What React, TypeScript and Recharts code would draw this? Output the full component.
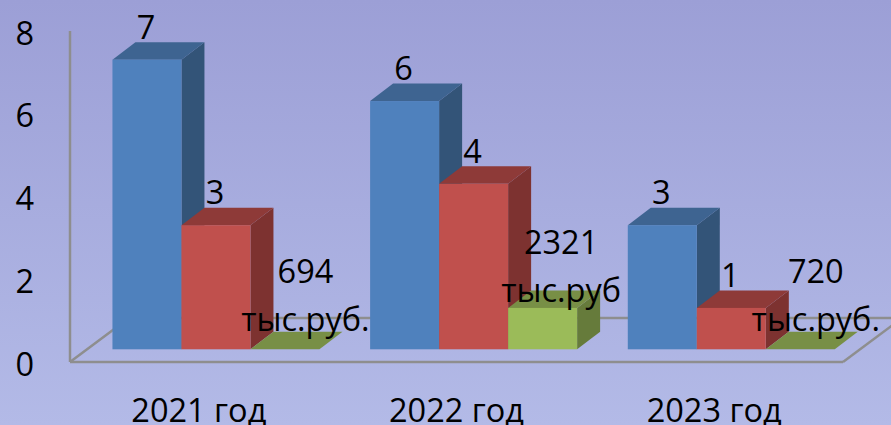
import React from 'react';
import { BarChart, Bar, XAxis, YAxis, LabelList, Customized } from 'recharts';

const categories = ['2021 год', '2022 год', '2023 год'];
const blueValues = [7, 6, 3];
const redValues = [3, 4, 1];
const greenValues = [0, 1, 0];
const greenAmounts = ['694', '2321', '720'];
const greenUnits = ['тыс.руб.', 'тыс.руб', 'тыс.руб.'];
const yTicks = [0, 2, 4, 6, 8];

const data = categories.map((name, i) => ({
  name,
  blue: blueValues[i],
  red: redValues[i],
  green: greenValues[i],
}));

const WIDTH = 891;
const HEIGHT = 425;
const FONT = '"Open Sans", sans-serif';
const FONT_SIZE = 32.5;
const AXIS = '#8e8e8e';

// the bars stand on the floor, a bit behind the front edge
const SHIFT_X = 17.2;
const SHIFT_Y = 12.7;
const DEPTH_X = 23;
const DEPTH_Y = 17.5;

const Box = (props: any) => {
  const { x, y, width, height, front, side, top } = props;
  const l = x + SHIFT_X;
  const t = y - SHIFT_Y;
  const r = l + width;
  const b = t + height;
  return (
    <g>
      <polygon points={`${r},${t} ${r + DEPTH_X},${t - DEPTH_Y} ${r + DEPTH_X},${b - DEPTH_Y} ${r},${b}`} fill={side} />
      <polygon points={`${l},${t} ${l + DEPTH_X},${t - DEPTH_Y} ${r + DEPTH_X},${t - DEPTH_Y} ${r},${t}`} fill={top} />
      <rect x={l} y={t} width={width} height={height} fill={front} />
    </g>
  );
};

const labelStyle = { fontFamily: FONT, fontSize: FONT_SIZE, fill: '#000' };

const valueLabel = (props: any) => {
  const { x, y, width, value } = props;
  return (
    <text x={x + SHIFT_X + width / 2 - 1} y={y - SHIFT_Y - 33.5} textAnchor="middle" dominantBaseline="central" style={labelStyle}>
      {value}
    </text>
  );
};

// the text boxes of the green bars were placed by hand in the original
const amountLabel = (props: any) => {
  const { x, y, index } = props;
  const cx = x + SHIFT_X + [55, 53, 50][index];
  const top = index === 1 ? y - SHIFT_Y - 67 : y - SHIFT_Y - 79;
  return (
    <text textAnchor="middle" dominantBaseline="central" style={labelStyle}>
      <tspan x={cx} y={top}>{greenAmounts[index]}</tspan>
      <tspan x={cx} y={top + 48}>{greenUnits[index]}</tspan>
    </text>
  );
};

const Floor = () => (
  <g stroke={AXIS} strokeWidth={2.5} fill="none">
    <polyline points="70,362 129,318 891,318" />
    <polyline points="843,362 902,318" />
  </g>
);

export default function App() {
  return (
    <div
      style={{
        position: 'absolute',
        left: 0,
        top: 0,
        width: WIDTH,
        height: HEIGHT,
        overflow: 'hidden',
        background: 'linear-gradient(180deg, #9c9fd6 0%, #b3bae7 100%)',
      }}
    >
      <BarChart
        width={WIDTH}
        height={HEIGHT}
        data={data}
        margin={{ top: 31, right: 48, bottom: 0, left: 0 }}
        barCategoryGap="9.8%"
        barGap={0}
      >
        <Customized component={<Floor />} />
        <XAxis
          dataKey="name"
          height={63}
          axisLine={{ stroke: AXIS, strokeWidth: 2.5 }}
          tickLine={false}
          tickMargin={31}
          interval={0}
          tick={{ fontFamily: FONT, fontSize: FONT_SIZE, fill: '#000' }}
        />
        <YAxis
          width={70}
          domain={[0, 8]}
          ticks={yTicks}
          axisLine={{ stroke: AXIS, strokeWidth: 2.5 }}
          tickLine={false}
          tickSize={0}
          tickMargin={36}
          tick={{ fontFamily: FONT, fontSize: FONT_SIZE, fill: '#000', dy: 2 }}
        />
        <Bar dataKey="blue" isAnimationActive={false} shape={<Box front="#4f81bd" side="#335478" top="#3e6491" />}>
          <LabelList dataKey="blue" content={valueLabel} />
        </Bar>
        <Bar dataKey="red" isAnimationActive={false} shape={<Box front="#c0504d" side="#7d3230" top="#8e3a38" />}>
          <LabelList dataKey="red" content={valueLabel} />
        </Bar>
        <Bar dataKey="green" isAnimationActive={false} shape={<Box front="#9bbb59" side="#667b3b" top="#788f46" />}>
          <LabelList dataKey="green" content={amountLabel} />
        </Bar>
      </BarChart>
    </div>
  );
}
